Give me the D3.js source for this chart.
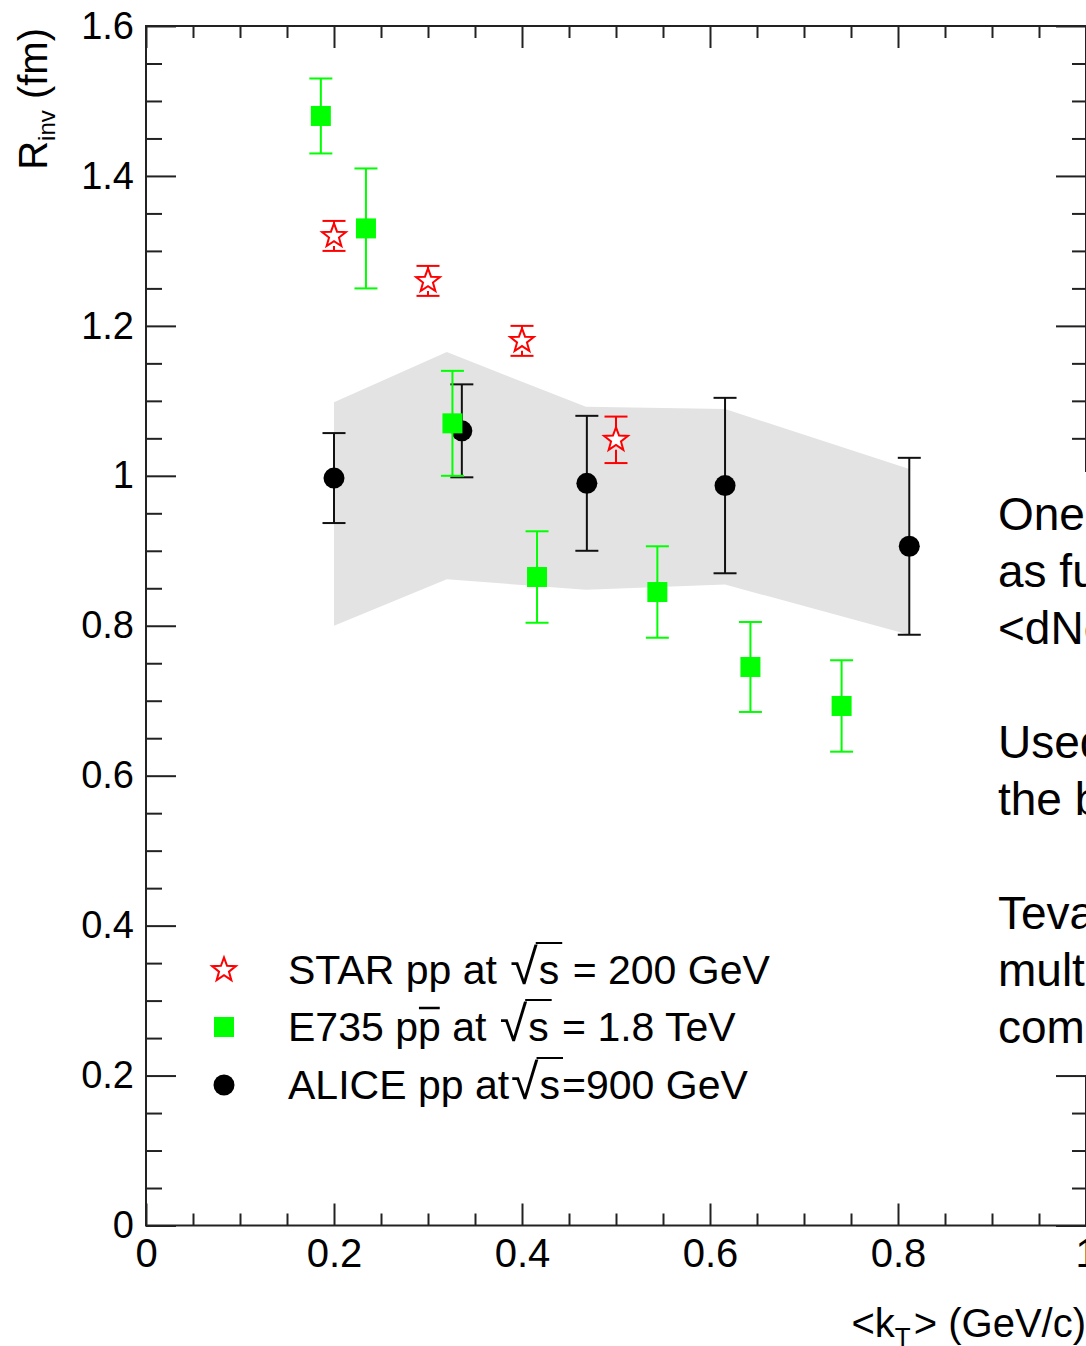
<!DOCTYPE html>
<html>
<head>
<meta charset="utf-8">
<script src="https://cdn.jsdelivr.net/npm/d3@7"></script>
<style>
  html, body { margin: 0; padding: 0; background: #fff; overflow: hidden; }
  svg { display: block; }
  text { font-family: "Liberation Sans", Arial, Helvetica, sans-serif; }
</style>
</head>
<body>
<svg id="chart" width="1086" height="1346"></svg>
<script>
// STAR pp at sqrt(s) = 200 GeV
const starKt  = [0.2, 0.3, 0.4, 0.5];
const starR   = [1.32, 1.26, 1.18, 1.048];
const starErr = [0.02, 0.02, 0.02, 0.031];

// E735 p-pbar at sqrt(s) = 1.8 TeV
const e735Kt  = [0.186, 0.234, 0.326, 0.416, 0.544, 0.643, 0.74];
const e735R   = [1.48, 1.33, 1.07, 0.865, 0.845, 0.745, 0.693];
const e735Err = [0.05, 0.08, 0.07, 0.061, 0.061, 0.06, 0.061];

// ALICE pp at sqrt(s) = 900 GeV
const aliceKt  = [0.2, 0.336, 0.469, 0.616, 0.812];
const aliceR   = [0.997, 1.06, 0.99, 0.987, 0.906];
const aliceErr = [0.06, 0.062, 0.09, 0.117, 0.118];

// ALICE systematic band
const bandKt = [0.2, 0.32, 0.468, 0.616, 0.812];
const bandHi = [1.098, 1.165, 1.092, 1.089, 1.009];
const bandLo = [0.80, 0.862, 0.848, 0.855, 0.788];

// axis ticks
const xMajor = [0, 0.2, 0.4, 0.6, 0.8, 1];
const xTickLabels = ["0", "0.2", "0.4", "0.6", "0.8", "1"];
const yMajor = [0, 0.2, 0.4, 0.6, 0.8, 1, 1.2, 1.4, 1.6];
const yTickLabels = ["0", "0.2", "0.4", "0.6", "0.8", "1", "1.2", "1.4", "1.6"];

// legend entries: text before the radical, text after "s"
const legendPre  = ["STAR pp at ", "E735 pp at ", "ALICE pp at"];
const legendPost = [" = 200 GeV", " = 1.8 TeV", "=900 GeV"];

// side note
const noteLines = ["One-dimensional radius", "as function of <kT> and", "<dNch/d\u03b7>", "",
                   "Used as reference for", "the bulk systems", "",
                   "Tevatron data: high", "multiplicity, results", "comparable"];

const svg = d3.select("#chart");
const W = 1086;

const x = d3.scaleLinear().domain([0, 1]).range([146, 1086]);
const y = d3.scaleLinear().domain([0, 1.6]).range([1225.5, 26]);

const isMajor = (v, majors) => majors.some(m => Math.abs(m - v) < 1e-6);
const xMinor = d3.range(0, 1.0001, 0.05).filter(v => !isMajor(v, xMajor));
const yMinor = d3.range(0, 1.6001, 0.05).filter(v => !isMajor(v, yMajor));

const axisColor = "#222";

function styleTicks(g) {
  g.select(".domain").remove();
  g.selectAll(".tick line").attr("stroke", axisColor).attr("stroke-width", 2);
}

// left axis
svg.append("g").attr("transform", `translate(${x(0)},0)`)
  .call(d3.axisLeft(y).tickValues(yMajor).tickSize(-30).tickSizeOuter(0).tickPadding(12)
    .tickFormat((d, i) => yTickLabels[i]))
  .call(styleTicks)
  .attr("font-size", 38).attr("font-family", null);
svg.append("g").attr("transform", `translate(${x(0)},0)`)
  .call(d3.axisLeft(y).tickValues(yMinor).tickSize(-16).tickSizeOuter(0).tickFormat(""))
  .call(styleTicks);

// right axis
svg.append("g").attr("transform", `translate(${x(1)},0)`)
  .call(d3.axisRight(y).tickValues(yMajor).tickSize(-30).tickSizeOuter(0).tickFormat(""))
  .call(styleTicks);
svg.append("g").attr("transform", `translate(${x(1)},0)`)
  .call(d3.axisRight(y).tickValues(yMinor).tickSize(-14).tickSizeOuter(0).tickFormat(""))
  .call(styleTicks);

// bottom axis
svg.append("g").attr("transform", `translate(0,${y(0)})`)
  .call(d3.axisBottom(x).tickValues(xMajor).tickSize(-22).tickSizeOuter(0).tickPadding(13)
    .tickFormat((d, i) => xTickLabels[i]))
  .call(styleTicks)
  .attr("font-size", 40).attr("font-family", null);
svg.append("g").attr("transform", `translate(0,${y(0)})`)
  .call(d3.axisBottom(x).tickValues(xMinor).tickSize(-12).tickSizeOuter(0).tickFormat(""))
  .call(styleTicks);

// top axis
svg.append("g").attr("transform", `translate(0,${y(1.6)})`)
  .call(d3.axisTop(x).tickValues(xMajor).tickSize(-22).tickSizeOuter(0).tickFormat(""))
  .call(styleTicks);
svg.append("g").attr("transform", `translate(0,${y(1.6)})`)
  .call(d3.axisTop(x).tickValues(xMinor).tickSize(-12).tickSizeOuter(0).tickFormat(""))
  .call(styleTicks);

// frame
svg.append("rect")
  .attr("x", x(0)).attr("y", y(1.6))
  .attr("width", x(1) - x(0)).attr("height", y(0) - y(1.6))
  .attr("fill", "none").attr("stroke", axisColor).attr("stroke-width", 2);

// systematic band
const band = d3.area()
  .x(i => x(bandKt[i]))
  .y0(i => y(bandLo[i]))
  .y1(i => y(bandHi[i]));
svg.append("path")
  .attr("d", band(d3.range(bandKt.length)))
  .attr("fill", "#e3e3e3");

const capHalf = 11.5;

function errorBars(kt, r, err, color, gap) {
  const g = svg.append("g").attr("stroke", color).attr("stroke-width", 2).attr("fill", "none");
  kt.forEach((k, i) => {
    const cx = x(k), top = y(r[i] + err[i]), bot = y(r[i] - err[i]), cy = y(r[i]);
    if (gap > 0) {
      g.append("line").attr("x1", cx).attr("x2", cx).attr("y1", top).attr("y2", Math.max(top, cy - gap));
      g.append("line").attr("x1", cx).attr("x2", cx).attr("y1", Math.min(bot, cy + gap)).attr("y2", bot);
    } else {
      g.append("line").attr("x1", cx).attr("x2", cx).attr("y1", top).attr("y2", bot);
    }
    g.append("line").attr("x1", cx - capHalf).attr("x2", cx + capHalf).attr("y1", top).attr("y2", top);
    g.append("line").attr("x1", cx - capHalf).attr("x2", cx + capHalf).attr("y1", bot).attr("y2", bot);
  });
}

function starPath(cx, cy, ro, ri) {
  const pts = [];
  for (let j = 0; j < 10; j++) {
    const a = -Math.PI / 2 + j * Math.PI / 5;
    const rr = j % 2 === 0 ? ro : ri;
    pts.push([cx + rr * Math.cos(a), cy + rr * Math.sin(a)]);
  }
  return "M" + pts.map(p => p.join(",")).join("L") + "Z";
}

function drawSquare(g, cx, cy) {
  g.append("rect").attr("x", cx - 10).attr("y", cy - 10).attr("width", 20).attr("height", 20)
    .attr("fill", "#00ff00");
}
function drawCircle(g, cx, cy) {
  g.append("circle").attr("cx", cx).attr("cy", cy).attr("r", 10.5).attr("fill", "#000");
}
function drawStar(g, cx, cy) {
  g.append("path").attr("d", starPath(cx, cy, 12.5, 5.2))
    .attr("fill", "#fff").attr("stroke", "#ff0000").attr("stroke-width", 2)
    .attr("stroke-linejoin", "miter");
}

// ALICE
errorBars(aliceKt, aliceR, aliceErr, "#111", 0);
const gAlice = svg.append("g");
aliceKt.forEach((k, i) => drawCircle(gAlice, x(k), y(aliceR[i])));

// E735
errorBars(e735Kt, e735R, e735Err, "#00ff00", 0);
const gE735 = svg.append("g");
e735Kt.forEach((k, i) => drawSquare(gE735, x(k), y(e735R[i])));

// STAR
errorBars(starKt, starR, starErr, "#ff0000", 10);
const gStar = svg.append("g");
starKt.forEach((k, i) => drawStar(gStar, x(k), y(starR[i])));

// legend
const legRows = [970, 1027, 1085];
const legMarkers = [drawStar, drawSquare, drawCircle];
const gLeg = svg.append("g");
legRows.forEach((cy, i) => {
  legMarkers[i](gLeg, 224, cy);
  const base = cy + 14;
  const t = gLeg.append("text").attr("x", 288).attr("y", base)
    .attr("font-size", 41).attr("fill", "#000");
  t.append("tspan").text(legendPre[i]);
  t.append("tspan").attr("font-size", 50).attr("dx", 2).text("\u221a");
  t.append("tspan").attr("dx", 1).text("s");
  t.append("tspan").attr("dx", 2).text(legendPost[i]);
  const node = t.node();
  const iRad = legendPre[i].length;
  const xr = node.getEndPositionOfChar(iRad).x;
  const xs = node.getEndPositionOfChar(iRad + 1).x;
  gLeg.append("line").attr("x1", xr - 2).attr("x2", xs + 3)
    .attr("y1", base - 41).attr("y2", base - 41)
    .attr("stroke", "#000").attr("stroke-width", 2);
  if (i === 1) {
    // anti-proton bar
    const p0 = node.getStartPositionOfChar(6).x;
    const p1 = node.getEndPositionOfChar(6).x;
    gLeg.append("line").attr("x1", p0 + 1).attr("x2", p1 - 1)
      .attr("y1", base - 33).attr("y2", base - 33)
      .attr("stroke", "#000").attr("stroke-width", 2.5);
  }
});

// axis titles
const xt = svg.append("text").attr("x", W).attr("y", 1337).attr("text-anchor", "end")
  .attr("font-size", 40).attr("fill", "#000");
xt.append("tspan").text("<k");
xt.append("tspan").attr("font-size", 26).attr("dy", 9).text("T");
xt.append("tspan").attr("dy", -9).attr("dx", 3).text("> (GeV/c)");

const yt = svg.append("text").attr("transform", "translate(47,28) rotate(-90)")
  .attr("text-anchor", "end").attr("font-size", 40).attr("fill", "#000");
yt.append("tspan").text("R");
yt.append("tspan").attr("font-size", 24).attr("dy", 8).text("inv");
yt.append("tspan").attr("dy", -8).text(" (fm)");

// side note on white panel
svg.append("rect").attr("x", 988).attr("y", 472).attr("width", W - 988).attr("height", 603)
  .attr("fill", "#fff");
const gNote = svg.append("g");
noteLines.forEach((s, i) => {
  if (!s) return;
  gNote.append("text").attr("x", 998).attr("y", 530 + 57 * i)
    .attr("font-size", 46).attr("fill", "#000").text(s);
});
</script>
</body>
</html>
